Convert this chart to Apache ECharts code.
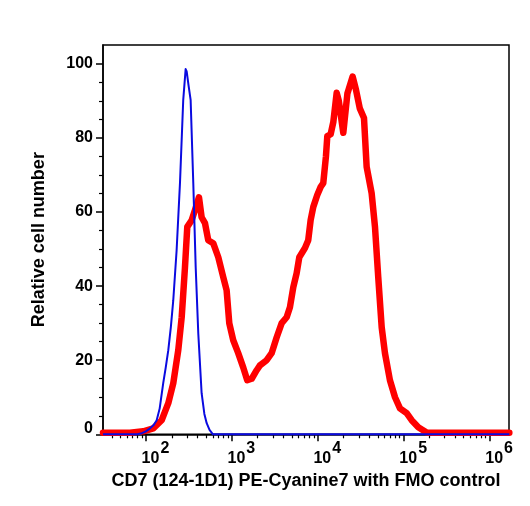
<!DOCTYPE html>
<html>
<head>
<meta charset="utf-8">
<script src="https://cdn.jsdelivr.net/npm/echarts@6/dist/echarts.min.js"></script>
<style>
html,body{margin:0;padding:0;background:#fff;}
#chart{width:530px;height:506px;}
</style>
</head>
<body>
<div id="chart"></div>
<script>
// x values are log10(fluorescence intensity)
var redLog = [1.50, 1.814, 1.969, 2.085, 2.183, 2.26, 2.318, 2.376, 2.416, 2.454, 2.481, 2.532, 2.570, 2.617, 2.648, 2.687, 2.725, 2.783, 2.842, 2.900, 2.939, 2.970, 3.016, 3.074, 3.133, 3.179, 3.231, 3.289, 3.327, 3.405, 3.463, 3.522, 3.580, 3.638, 3.676, 3.715, 3.754, 3.785, 3.851, 3.889, 3.917, 3.948, 3.994, 4.034, 4.064, 4.095, 4.111, 4.150, 4.181, 4.220, 4.245, 4.297, 4.345, 4.406, 4.445, 4.489, 4.538, 4.569, 4.627, 4.666, 4.704, 4.744, 4.782, 4.840, 4.899, 4.957, 5.035, 5.093, 5.170, 5.268, 5.384, 6.23];
var redCount = [0.4, 0.4, 0.8, 1.6, 3.8, 8.4, 13.8, 22.7, 31.6, 45, 56, 57.8, 60.5, 64, 58.6, 57, 52.4, 51.6, 47.8, 42.4, 38.9, 30, 25.4, 21.9, 18, 14.6, 15, 17.3, 18.6, 20, 21.9, 26.2, 30, 31.6, 34.3, 39.7, 43.5, 47.8, 50.3, 52.4, 57.8, 61.4, 64.6, 66.8, 67.8, 75, 80.5, 81, 84.3, 92.2, 90, 81.4, 92, 96.6, 93, 88, 85.4, 72.2, 65.1, 56, 42.4, 28.9, 21.9, 14.6, 10, 7, 5.7, 3.8, 1.9, 0.5, 0.4, 0.4];
var blueLog = [1.50, 1.90, 1.953, 2.0, 2.047, 2.09, 2.125, 2.16, 2.201, 2.23, 2.260, 2.29, 2.318, 2.357, 2.396, 2.434, 2.462, 2.474, 2.497, 2.520, 2.551, 2.579, 2.609, 2.648, 2.68, 2.707, 2.74, 2.78, 6.23];
var blueCount = [0, 0, 0.3, 0.8, 1.6, 2.5, 3.8, 7, 13.8, 18, 22.7, 29, 36.2, 49.7, 67.8, 90.3, 98.6, 98, 94, 90.3, 67.8, 45.1, 27.3, 11.1, 5.5, 3, 1.2, 0, 0];
var xMajorTicks = [2, 3, 4, 5, 6];
var yMajorTicks = [0, 20, 40, 60, 80, 100];
var yMinorTicks = [5, 10, 15, 25, 30, 35, 45, 50, 55, 65, 70, 75, 85, 90, 95];
var xTitle = 'CD7 (124-1D1) PE-Cyanine7 with FMO control';
var yTitle = 'Relative cell number';

var xMin = 1.5, xMax = 6.226, yMin = 0, yMax = 105.1;
var xMinorTicks = [];
for (var d = 1; d <= 6; d++) {
  for (var k = 2; k <= 9; k++) {
    var v = d + Math.log10(k);
    if (v > xMin && v < xMax) xMinorTicks.push(v);
  }
}
function pairs(xs, ys) { return xs.map(function (x, i) { return [x, ys[i]]; }); }

var FONT = '"Liberation Sans", Arial, Helvetica, sans-serif';
var chart = echarts.init(document.getElementById('chart'), null, {renderer: 'canvas'});
chart.setOption({
  animation: false,
  grid: {left: 103, right: 21, top: 45, bottom: 71.7, show: true, borderColor: '#000', borderWidth: 1.5, containLabel: false},
  xAxis: [{
    type: 'value', min: xMin, max: xMax, position: 'bottom', offset: 0,
    splitLine: {show: false},
    axisLine: {lineStyle: {color: '#000', width: 1.5}},
    axisTick: {customValues: xMajorTicks, length: 7, lineStyle: {color: '#000', width: 1.5}},
    axisLabel: {
      customValues: xMajorTicks, margin: 6, align: 'center',
      formatter: function (v) { return '{sp| }{b|10}{s|' + Math.round(v) + '}'; },
      rich: {
        sp: {width: 19, fontSize: 16},
        b: {fontFamily: FONT, fontWeight: 'bold', fontSize: 16, color: '#000', verticalAlign: 'bottom'},
        s: {fontFamily: FONT, fontWeight: 'bold', fontSize: 16, color: '#000', verticalAlign: 'top', padding: [0, 0, 10, 1]}
      }
    },
    name: xTitle, nameLocation: 'middle', nameGap: 38,
    nameTextStyle: {fontFamily: FONT, fontWeight: 'bold', fontSize: 18, color: '#000'}
  }, {
    type: 'value', min: xMin, max: xMax, position: 'bottom', offset: 0,
    splitLine: {show: false},
    axisLine: {show: false},
    axisTick: {customValues: xMinorTicks, length: 4, lineStyle: {color: '#000', width: 1.2}},
    axisLabel: {show: false}
  }],
  yAxis: [{
    type: 'value', min: yMin, max: yMax, position: 'left', offset: 0,
    splitLine: {show: false},
    axisLine: {lineStyle: {color: '#000', width: 1.5}},
    axisTick: {customValues: yMajorTicks, length: 7, lineStyle: {color: '#000', width: 1.5}},
    axisLabel: {
      customValues: yMajorTicks, margin: 10,
      fontFamily: FONT, fontWeight: 'bold', fontSize: 16, color: '#000',
      formatter: function (v) { return v === 0 ? '{z|0}' : String(v); },
      rich: {z: {fontFamily: FONT, fontWeight: 'bold', fontSize: 16, color: '#000', padding: [0, 0, 12, 0]}}
    },
    name: yTitle, nameLocation: 'middle', nameGap: 55,
    nameTextStyle: {fontFamily: FONT, fontWeight: 'bold', fontSize: 18, color: '#000'}
  }, {
    type: 'value', min: yMin, max: yMax, position: 'left', offset: 0,
    splitLine: {show: false},
    axisLine: {show: false},
    axisTick: {customValues: yMinorTicks, length: 4, lineStyle: {color: '#000', width: 1.2}},
    axisLabel: {show: false}
  }],
  series: [{
    type: 'line', xAxisIndex: 0, yAxisIndex: 0, data: pairs(redLog, redCount),
    showSymbol: false, symbol: 'none', clip: false,
    lineStyle: {color: '#ff0000', width: 6.5, join: 'round', cap: 'round'}
  }, {
    type: 'line', xAxisIndex: 0, yAxisIndex: 0, data: pairs(blueLog, blueCount),
    showSymbol: false, symbol: 'none', clip: false,
    lineStyle: {color: '#0a0ae0', width: 2, join: 'round'}
  }]
});
</script>
</body>
</html>
